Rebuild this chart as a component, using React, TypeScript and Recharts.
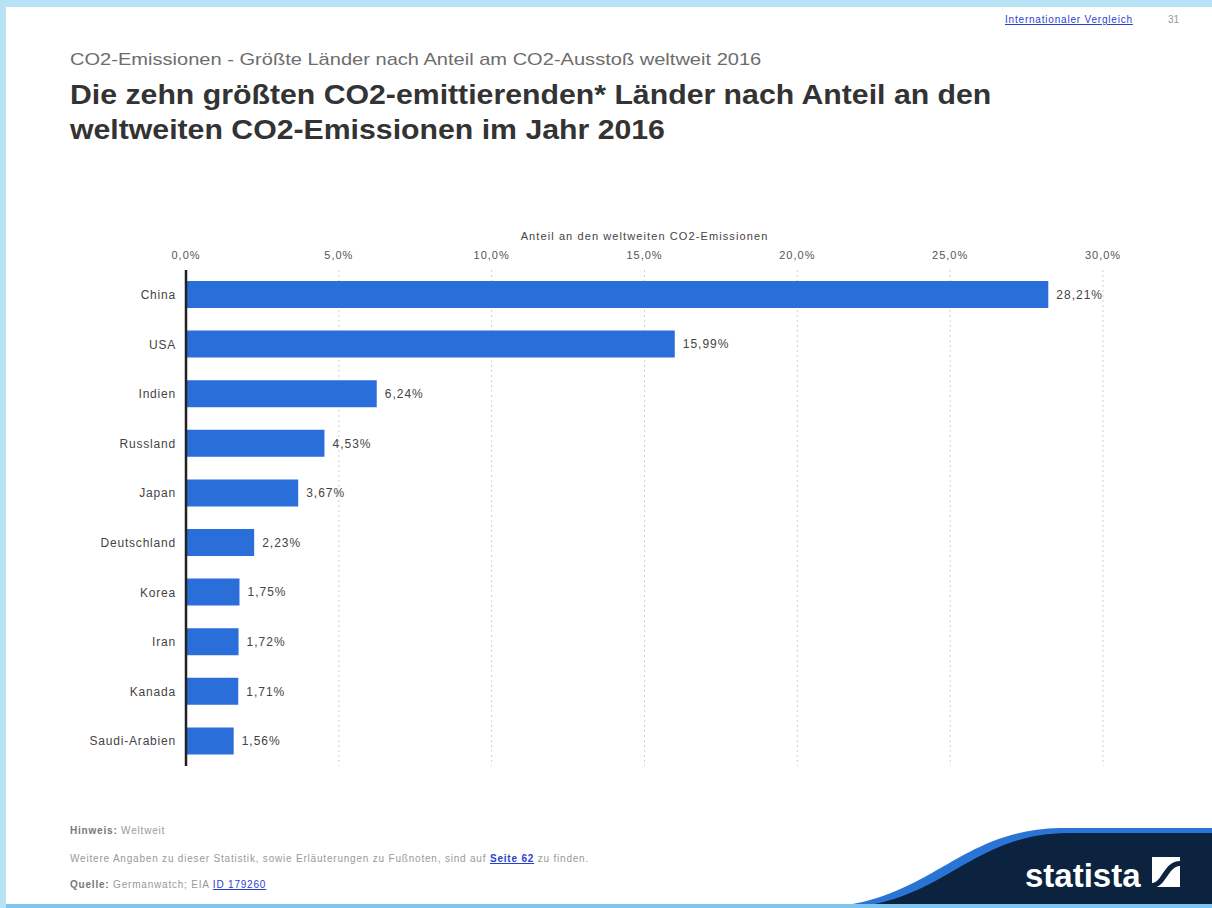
import React from 'react';
import { BarChart, Bar, XAxis, YAxis, CartesianGrid, LabelList } from 'recharts';

const countries = ['China', 'USA', 'Indien', 'Russland', 'Japan', 'Deutschland', 'Korea', 'Iran', 'Kanada', 'Saudi-Arabien'];
const shares = [28.21, 15.99, 6.24, 4.53, 3.67, 2.23, 1.75, 1.72, 1.71, 1.56];
const xTicks = [0, 5, 10, 15, 20, 25, 30];

const data = countries.map((name, i) => ({ name, value: shares[i] }));

const FONT = '"Liberation Sans", Arial, sans-serif';
const BAR = '#2a6fd9';
const LINK = '#2a3fd0';

const fmtPct = (v: number, digits: number) => v.toFixed(digits).replace('.', ',') + '%';

const App: React.FC = () => {
  return (
    <div style={{ position: 'absolute', left: 0, top: 0, width: 1212, height: 908, background: '#b6e4f6', fontFamily: FONT, overflow: 'hidden' }}>
      <div style={{ position: 'absolute', left: 6, top: 7, width: 1206, height: 897, background: '#fff' }} />

      <div style={{ position: 'absolute', left: 1005, top: 14, fontSize: 10, letterSpacing: 0.8, color: LINK, textDecoration: 'underline' }}>
        Internationaler Vergleich
      </div>
      <div style={{ position: 'absolute', left: 1168, top: 14, fontSize: 10, color: '#999' }}>31</div>

      <div style={{ position: 'absolute', left: 70, top: 50, fontSize: 17, color: '#6d6d6d', transform: 'scaleX(1.18)', transformOrigin: 'left top', whiteSpace: 'nowrap' }}>
        CO2-Emissionen - Größte Länder nach Anteil am CO2-Ausstoß weltweit 2016
      </div>
      <div style={{ position: 'absolute', left: 70, top: 78, fontSize: 27, lineHeight: '35px', fontWeight: 700, color: '#333', transform: 'scaleX(1.12)', transformOrigin: 'left top', whiteSpace: 'nowrap' }}>
        Die zehn größten CO2-emittierenden* Länder nach Anteil an den
        <br />
        weltweiten CO2-Emissionen im Jahr 2016
      </div>

      <div style={{ position: 'absolute', left: 0, top: 215 }}>
        <BarChart
          width={1212}
          height={561}
          data={data}
          layout="vertical"
          margin={{ top: 30, right: 109, left: 10, bottom: 10 }}
          barSize={27}
        >
          <CartesianGrid horizontal={false} strokeDasharray="2 3" stroke="#cfcfcf" />
          <XAxis
            type="number"
            orientation="top"
            domain={[0, 30]}
            ticks={xTicks}
            tickFormatter={(v: number) => fmtPct(v, 1)}
            axisLine={false}
            tickLine={false}
            tickSize={6}
            tickMargin={5}
            height={25}
            tick={{ fill: '#555', fontSize: 11, letterSpacing: 1, fontFamily: FONT }}
            label={{ value: 'Anteil an den weltweiten CO2-Emissionen', position: 'top', offset: 5, fill: '#444', fontSize: 11, letterSpacing: 1.1, fontFamily: FONT }}
          />
          <YAxis
            type="category"
            dataKey="name"
            width={176}
            axisLine={{ stroke: '#222', strokeWidth: 2.5 }}
            tickLine={false}
            tickSize={0}
            tickMargin={10}
            interval={0}
            tick={{ fill: '#444', fontSize: 12, letterSpacing: 0.8, fontFamily: FONT }}
          />
          <Bar dataKey="value" fill={BAR} isAnimationActive={false}>
            <LabelList
              dataKey="value"
              position="right"
              offset={8}
              formatter={(v: number) => fmtPct(v, 2)}
              style={{ fill: '#444', fontSize: 12, letterSpacing: 1, fontFamily: FONT }}
            />
          </Bar>
        </BarChart>
      </div>

      <div style={{ position: 'absolute', left: 70, top: 825, fontSize: 10, letterSpacing: 0.8, color: '#999' }}>
        <b style={{ color: '#777' }}>Hinweis:</b> Weltweit
      </div>
      <div style={{ position: 'absolute', left: 70, top: 853, fontSize: 10, letterSpacing: 0.8, color: '#999' }}>
        Weitere Angaben zu dieser Statistik, sowie Erläuterungen zu Fußnoten, sind auf{' '}
        <span style={{ color: LINK, textDecoration: 'underline', fontWeight: 700 }}>Seite 62</span> zu finden.
      </div>
      <div style={{ position: 'absolute', left: 70, top: 879, fontSize: 10, letterSpacing: 0.8, color: '#999' }}>
        <b style={{ color: '#777' }}>Quelle:</b> Germanwatch; EIA{' '}
        <span style={{ color: LINK, textDecoration: 'underline' }}>ID 179260</span>
      </div>

      <svg style={{ position: 'absolute', left: 0, top: 0 }} width={1212} height={908}>
        <path d="M 815 908 C 930 905, 955 830, 1060 828 L 1212 828 L 1212 908 Z" fill="#2a74d6" />
        <path d="M 840 908 C 945 904, 968 834, 1068 833 L 1212 833 L 1212 908 Z" fill="#0c2340" />
        <text x={1025} y={887} fill="#fff" fontSize={33} fontWeight={700} fontFamily={FONT}>statista</text>
        <rect x={1152} y={857} width={28} height={30} fill="#fff" />
        <path d="M 1152 883 C 1162 883, 1164 861, 1180 861 L 1180 866 C 1168 866, 1166 888, 1152 888 Z" fill="#0c2340" />
        <rect x={6} y={904} width={1206} height={4} fill="#7fc6ee" />
      </svg>
    </div>
  );
};

export default App;
